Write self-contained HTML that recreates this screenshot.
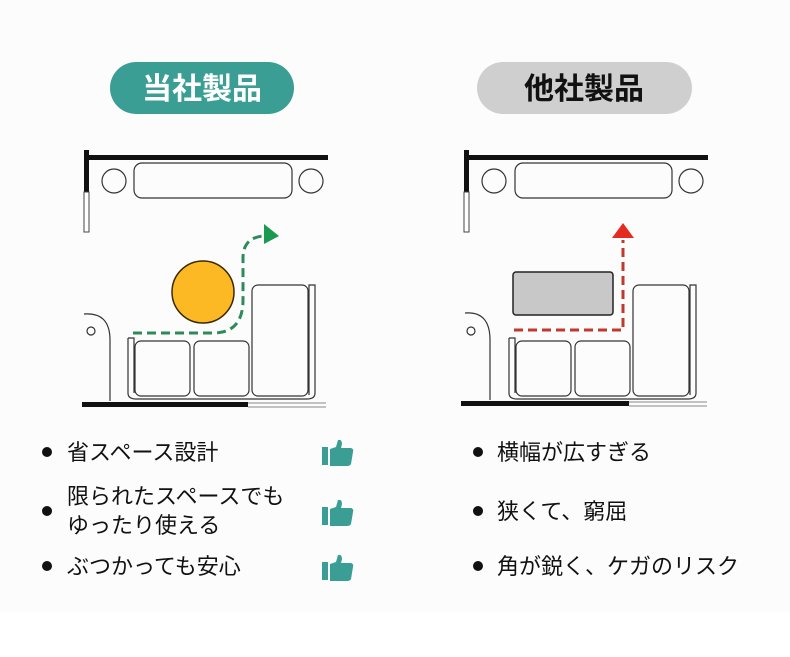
<!DOCTYPE html>
<html><head><meta charset="utf-8"><style>
html,body{margin:0;padding:0;background:#fff;}
svg{display:block;}
text{font-family:"Liberation Sans","Noto Sans CJK JP",sans-serif;}
</style></head><body>
<svg width="790" height="657" viewBox="0 0 790 657" xmlns="http://www.w3.org/2000/svg">
<rect width="790" height="657" fill="#fcfcfc"/>
<rect x="0" y="612" width="790" height="45" fill="#ffffff"/>
<!-- headers -->
<rect x="110" y="62" width="184" height="52" rx="26" fill="#3a9e94"/>
<text x="202" y="99" text-anchor="middle" font-size="30" font-weight="bold" fill="#fff">当社製品</text>
<rect x="477" y="62" width="215" height="52" rx="26" fill="#cfcfcf"/>
<text x="584" y="99" text-anchor="middle" font-size="30" font-weight="bold" fill="#111">他社製品</text>

<g fill="none" stroke="#333" stroke-width="1.2">
  <rect x="84" y="155" width="244" height="5" fill="#111" stroke="none"/>
  <rect x="84" y="150" width="5" height="42" fill="#111" stroke="none"/>
  <rect x="84" y="192" width="5" height="40" fill="#fff" stroke="#444" stroke-width="1"/>
  <circle cx="114" cy="181" r="12"/>
  <circle cx="311" cy="181" r="12"/>
  <rect x="134" y="163" width="158" height="35" rx="8"/>
  <path d="M84 314 Q110 312 110 340 L110 401"/>
  <circle cx="91" cy="331" r="4"/>
  <path d="M128 338 h6 v55 M128 338 v55 q0 6 8 6 h171 q8 0 8 -6 v-108 h-6 v110"/>
  <rect x="135" y="341" width="55" height="55" rx="6"/>
  <rect x="194" y="341" width="55" height="55" rx="6"/>
  <rect x="252" y="285" width="56" height="111" rx="6"/>
  <rect x="82" y="402" width="166" height="5" fill="#111" stroke="none"/>
  <path d="M248 403 h78 M248 407 h78" stroke="#888" stroke-width="1"/>
</g>
<g fill="none" stroke="#333" stroke-width="1.2">
  <rect x="464" y="155" width="244" height="5" fill="#111" stroke="none"/>
  <rect x="464" y="150" width="5" height="42" fill="#111" stroke="none"/>
  <rect x="464" y="192" width="5" height="40" fill="#fff" stroke="#444" stroke-width="1"/>
  <circle cx="494" cy="181" r="12"/>
  <circle cx="691" cy="181" r="12"/>
  <rect x="515" y="163" width="157" height="35" rx="8"/>
  <path d="M465 313 Q490 311 490 340 L490 400"/>
  <circle cx="471" cy="331" r="4"/>
  <path d="M509 338 h6 v55 M509 338 v55 q0 6 8 6 h171 q8 0 8 -6 v-108 h-6 v110"/>
  <rect x="516" y="341" width="55" height="55" rx="6"/>
  <rect x="575" y="341" width="55" height="55" rx="6"/>
  <rect x="633" y="285" width="56" height="111" rx="6"/>
  <rect x="461" y="401" width="168" height="5" fill="#111" stroke="none"/>
  <path d="M629 402 h78 M629 406 h78" stroke="#888" stroke-width="1"/>
</g>
<circle cx="203" cy="292" r="31" fill="#fdb924" stroke="#3a2a00" stroke-width="1.5"/>
<path d="M133 333 H213 Q243 333 243 300 V258 Q243 238 263 236" fill="none" stroke="#2e8b57" stroke-width="3" stroke-dasharray="9,5"/>
<polygon points="264,224 279,236 264,244" fill="#1a9a50"/>
<rect x="513" y="272" width="100" height="43" rx="3" fill="#c8c8c8" stroke="#222" stroke-width="1.5"/>
<path d="M514 330 H623 V240" fill="none" stroke="#c0392b" stroke-width="3" stroke-dasharray="9,5"/>
<polygon points="612,238 623,223 634,238" fill="#e52b20"/>

<g font-size="22" fill="#111">
  <circle cx="47" cy="452" r="5"/>
  <text x="67" y="460">省スペース設計</text>
  <circle cx="47" cy="511" r="5"/>
  <text x="67" y="504">限られたスペースでも</text>
  <text x="67" y="533">ゆったり使える</text>
  <circle cx="47" cy="566" r="5"/>
  <text x="67" y="574">ぶつかっても安心</text>
  <circle cx="478" cy="452" r="5"/>
  <text x="497" y="460">横幅が広すぎる</text>
  <circle cx="478" cy="511" r="5"/>
  <text x="497" y="519">狭くて、窮屈</text>
  <circle cx="478" cy="566" r="5"/>
  <text x="497" y="574">角が鋭く、ケガのリスク</text>
</g>
<g fill="#3a9e94">
  <g transform="translate(322,440)">
    <rect x="0" y="7" width="6" height="18"/>
    <path d="M8 9 L14 7 L16 0 Q20 -1 20 4 L19 8 L29 8 Q32 9 31 12 L29 24 Q28 26 25 26 L8 26 Z"/>
  </g>
  <g transform="translate(322,500)">
    <rect x="0" y="7" width="6" height="18"/>
    <path d="M8 9 L14 7 L16 0 Q20 -1 20 4 L19 8 L29 8 Q32 9 31 12 L29 24 Q28 26 25 26 L8 26 Z"/>
  </g>
  <g transform="translate(322,555)">
    <rect x="0" y="7" width="6" height="18"/>
    <path d="M8 9 L14 7 L16 0 Q20 -1 20 4 L19 8 L29 8 Q32 9 31 12 L29 24 Q28 26 25 26 L8 26 Z"/>
  </g>
</g>
</svg>
</body></html>
